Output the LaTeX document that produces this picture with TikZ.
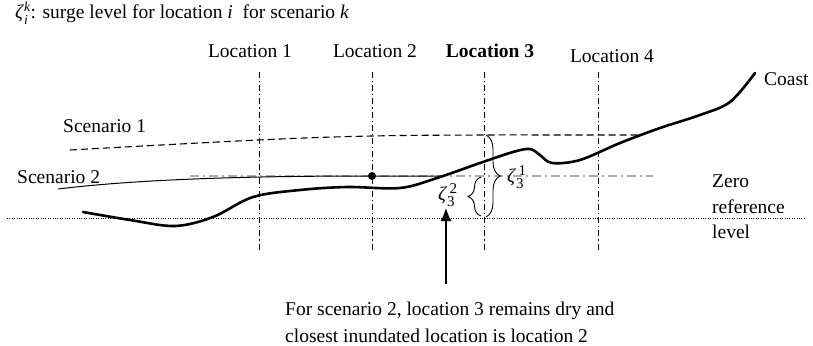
\documentclass[tikz,border=0pt]{standalone}
\usepackage{amsmath}
\usepackage{fontspec}
\setmainfont{Liberation Serif}
\usetikzlibrary{arrows.meta,decorations.pathreplacing}
\newcommand{\scr}[1]{\text{\fontsize{15}{15}\selectfont #1}}
\newcommand{\zt}[2]{\textit{ζ}$_{\scr{#1}}^{\,\scr{#2}}$}
\begin{document}
\begin{tikzpicture}[x=1pt,y=-1pt,
  font=\fontsize{19.5}{23}\selectfont,
  lbl/.style={inner sep=0pt, anchor=base west},
  loclbl/.style={inner sep=0pt, anchor=base},
  locline/.style={line width=0.9pt, dash pattern=on 6pt off 3pt on 1.2pt off 3pt},
  zeroline/.style={line width=0.9pt, dash pattern=on 1pt off 1.4pt},
  sconeline/.style={line width=1.1pt, dash pattern=on 7pt off 4pt},
  sctwoline/.style={line width=1pt},
  greyline/.style={line width=1.3pt, gray!65, dash pattern=on 9pt off 4pt on 2pt off 4pt},
  coastline/.style={line width=2.6pt, line cap=round},
  bracestyle/.style={line width=0.9pt, decorate, decoration={brace, amplitude=#1}},
  arrowstyle/.style={line width=1.5pt, -{Latex[length=13pt,width=11pt]}}]
\useasboundingbox (0,0) rectangle (813,345);

% title
\node[lbl] (title) at (15,19) {\textit{ζ}$_{\textit{i}}^{\textit{k}}$: surge level for location \textit{i}\ \ for scenario \textit{k}};

% location labels
\node[loclbl] (loc1) at (250,58) {Location 1};
\node[loclbl] (loc2) at (375,58) {Location 2};
\node[loclbl] (loc3) at (490,58) {\textbf{Location 3}};
\node[loclbl] (loc4) at (612,63) {Location 4};

% location lines
\coordinate (l1t) at (259,72); \coordinate (l1b) at (259,252);
\coordinate (l2t) at (372,72); \coordinate (l2b) at (372,252);
\coordinate (l3t) at (484,72); \coordinate (l3b) at (484,252);
\coordinate (l4t) at (598,72); \coordinate (l4b) at (598,252);
\draw[locline] (l1t) -- (l1b);
\draw[locline] (l2t) -- (l2b);
\draw[locline] (l3t) -- (l3b);
\draw[locline] (l4t) -- (l4b);

% zero reference level
\coordinate (zl) at (7,218); \coordinate (zr) at (805,218);
\draw[zeroline] (zl) -- (zr);
\node[lbl] (zero1) at (712,187) {Zero};
\node[lbl] (zero2) at (712,213) {reference};
\node[lbl] (zero3) at (712,238) {level};

% scenario 2 grey level
\coordinate (gl) at (190,176); \coordinate (gr) at (653,176);
\draw[greyline] (gl) -- (gr);

% scenario 1
\node[lbl] (sc1) at (63,132) {Scenario 1};
\draw[sconeline] plot[smooth, tension=0.6] coordinates {(70,150) (258,140) (372,136) (484,135) (560,135) (638,135)};

% scenario 2
\node[lbl] (sc2) at (17,183) {Scenario 2};
\node[circle, fill, inner sep=0pt, minimum size=8pt] (dot) at (372,176) {};
\coordinate (s2s) at (58,189); \coordinate (s2e) at (443,176);
\draw[sctwoline] (s2s) .. controls (140,179) and (250,176) .. (dot.center) -- (s2e);

% coast
\draw[coastline] plot[smooth, tension=0.55] coordinates {(83,212) (130,220) (175,226) (213,217) (253,197) (300,190) (347,187) (400,188) (437,178) (480,163) (513,152) (530,149) (540,155) (552,163) (580,160) (620,143) (660,128) (700,115) (730,102) (755,73)};
\node[lbl] (coast) at (764,85) {Coast};

% braces
\coordinate (b1t) at (486,135); \coordinate (b1b) at (486,217);
\draw[bracestyle=14pt] (b1t) -- (b1b);
\node[inner sep=0pt, anchor=west] (z31) at (507,177) {\zt{3}{1}};
\coordinate (b2b) at (481,216); \coordinate (b2t) at (481,177);
\draw[bracestyle=13pt] (b2b) -- (b2t);
\node[inner sep=0pt, anchor=west] (z32) at (438,195) {\zt{3}{2}};

% arrow
\coordinate (arrS) at (446,284); \coordinate (arrT) at (446,208);
\draw[arrowstyle] (arrS) -- (arrT);

% bottom text
\node[lbl] (note1) at (285,315) {For scenario 2, location 3 remains dry and};
\node[lbl] (note2) at (285,342) {closest inundated location is location 2};
\end{tikzpicture}
\end{document}
